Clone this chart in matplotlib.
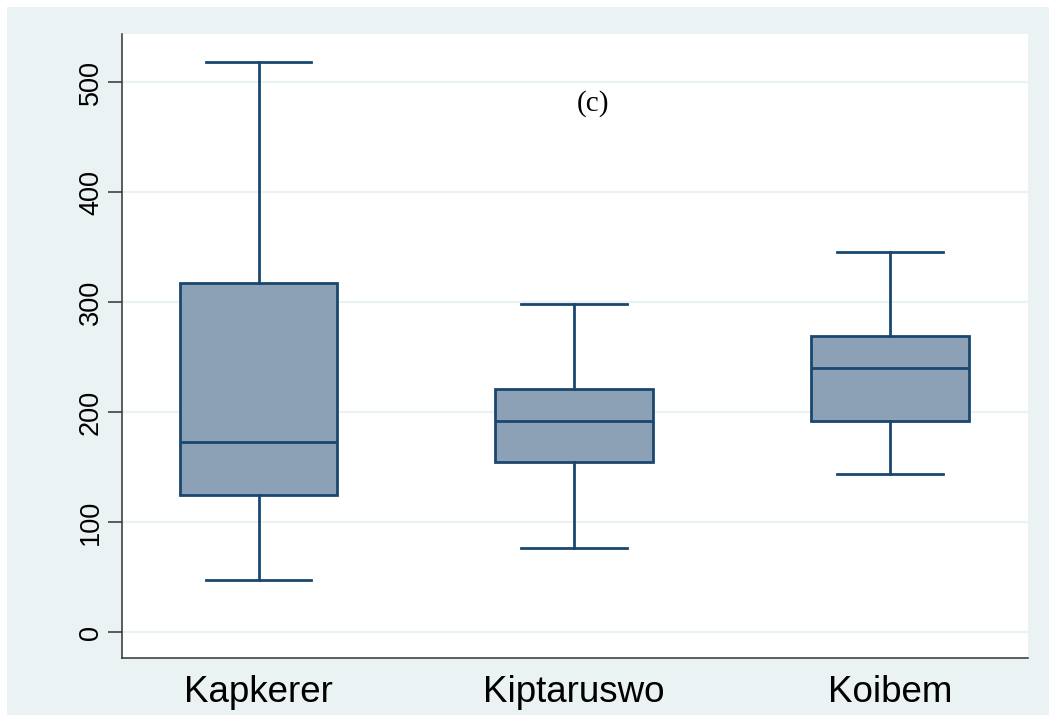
import matplotlib
matplotlib.use("Agg")
import matplotlib.pyplot as plt
from matplotlib.patches import Rectangle

# Summary statistics per site
sites = ["Kapkerer", "Kiptaruswo", "Koibem"]
whisker_low = [47.5, 76.6, 144.2]
q1 = [125.1, 154.5, 192.4]
median = [173.0, 192.1, 240.5]
q3 = [317.3, 220.9, 269.1]
whisker_high = [518.5, 298.2, 345.7]
yticks = [0, 100, 200, 300, 400, 500]
panel_label = "(c)"

edge = "#1A476F"
fill = "#8CA1B5"
bg = "#EAF2F3"

fig = plt.figure(figsize=(10.49, 7.15), dpi=100, facecolor="white")
fig.patches.append(Rectangle((7 / 1049, 0), 1 - 7 / 1049, 1 - 7 / 715,
                             transform=fig.transFigure, facecolor=bg,
                             edgecolor="none", zorder=-10))

ax = fig.add_axes([122 / 1049, 57 / 715, 906 / 1049, 624 / 715])
ax.set_facecolor("white")

stats = []
for i, name in enumerate(sites):
    stats.append(dict(label=name, whislo=whisker_low[i], q1=q1[i],
                      med=median[i], q3=q3[i], whishi=whisker_high[i],
                      fliers=[]))

positions = list(range(1, len(sites) + 1))
ax.bxp(stats, positions=positions, widths=0.5, capwidths=0.335,
       patch_artist=True, showfliers=False,
       boxprops=dict(facecolor=fill, edgecolor=edge, linewidth=2.0),
       medianprops=dict(color=edge, linewidth=2.0),
       whiskerprops=dict(color=edge, linewidth=2.0),
       capprops=dict(color=edge, linewidth=2.0),
       zorder=3)

ax.set_xlim(0.5675, 3.438)
ax.set_ylim(-23.4, 543.9)

ax.set_yticks(yticks)
ax.set_yticklabels([str(v) for v in yticks], rotation=90, va="center",
                   fontsize=19.5, family="Liberation Sans")
ax.set_xticks(positions)
ax.set_xticklabels(sites, fontsize=26.5, family="Liberation Sans")

ax.yaxis.grid(True, color=bg, linewidth=1.6, zorder=0)
ax.set_axisbelow(True)

ax.tick_params(axis="y", direction="out", length=10, width=1.1,
               color="#333333", pad=3)
ax.tick_params(axis="x", length=0, pad=12)

for side in ("top", "right"):
    ax.spines[side].set_visible(False)
for side in ("left", "bottom"):
    ax.spines[side].set_color("#333333")
    ax.spines[side].set_linewidth(1.1)

ax.text(2.06, 481, panel_label, ha="center", va="center", fontsize=21,
        family="Liberation Serif")

fig.savefig("out.png", dpi=100, facecolor=fig.get_facecolor())
